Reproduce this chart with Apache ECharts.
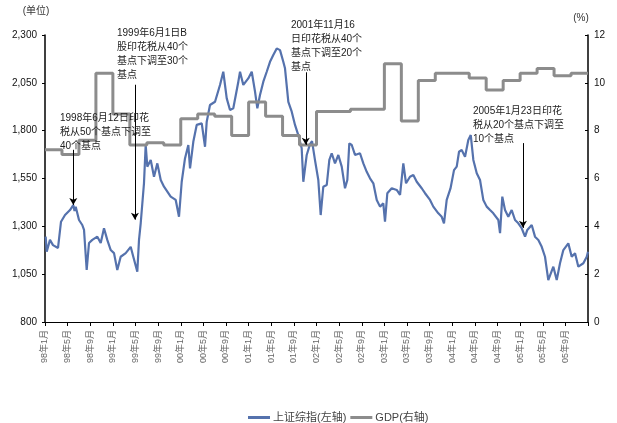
<!DOCTYPE html>
<html>
<head>
<meta charset="utf-8">
<script src="https://cdn.jsdelivr.net/npm/echarts@6/dist/echarts.min.js"></script>
<style>
  html, body { margin: 0; padding: 0; background: #fff; }
  #chart { width: 617px; height: 423px; }
</style>
</head>
<body>
<div id="chart"></div>
<script>
// x axis tick labels, one every 4 months from Jan 1998
const tickLabels = ['98年1月', '98年5月', '98年9月', '99年1月', '99年5月', '99年9月',
  '00年1月', '00年5月', '00年9月', '01年1月', '01年5月', '01年9月',
  '02年1月', '02年5月', '02年9月', '03年1月', '03年5月', '03年9月',
  '04年1月', '04年5月', '04年9月', '05年1月', '05年5月', '05年9月']

// 上证综指: position in months since Jan 1998, and index level
const szMonths = [0.12, 0.30, 0.88, 1.41, 2.30, 2.83, 3.54, 4.42, 5.00, 5.22, 5.43, 6.01, 6.59, 6.90,
  7.37, 7.78, 8.36, 9.25, 9.85, 10.43, 11.01, 11.62, 12.20, 12.78, 13.38, 14.27, 15.15, 15.61,
  16.32, 16.62, 16.92, 17.50, 17.80, 18.09, 18.69, 19.27, 19.86, 20.46, 21.04, 22.22, 23.11, 23.69,
  24.17, 24.75, 25.34, 25.64, 26.22, 26.82, 27.71, 28.29, 28.59, 29.17, 30.06, 30.94, 31.52, 32.13,
  32.71, 33.29, 34.18, 34.48, 35.06, 35.94, 36.55, 37.13, 37.54, 38.01, 38.60, 39.20, 39.78, 40.36,
  40.97, 41.55, 42.13, 42.43, 43.02, 43.62, 44.20, 44.78, 45.38, 45.67, 46.27, 46.85, 47.21, 47.74,
  48.32, 48.74, 49.20, 49.81, 50.27, 50.69, 51.27, 51.86, 52.46, 53.04, 53.45, 53.80, 54.23, 54.81,
  55.69, 56.28, 56.88, 57.46, 58.05, 58.65, 59.23, 59.81, 60.11, 60.52, 61.30, 62.18, 62.77, 63.35,
  63.83, 64.53, 65.12, 65.72, 66.60, 67.19, 68.07, 68.65, 69.54, 70.14, 70.54, 71.02, 71.69, 72.31,
  72.79, 73.20, 73.67, 74.26, 74.84, 75.27, 75.73, 76.33, 76.91, 77.49, 78.09, 78.68, 79.26, 80.15,
  80.45, 80.85, 81.33, 81.91, 82.51, 83.10, 83.68, 84.28, 84.87, 85.27, 86.05, 86.63, 87.22, 87.82,
  88.40, 88.98, 89.87, 90.47, 91.05, 91.64, 92.52, 93.12, 93.71, 94.29, 95.18, 95.78, 96.00]
const szValues = [1246, 1167, 1229, 1202, 1187, 1324, 1359, 1385, 1411, 1380, 1402, 1333, 1307, 1281,
  1072, 1213, 1229, 1246, 1213, 1290, 1229, 1176, 1160, 1072, 1141, 1160, 1193, 1141,
  1063, 1229, 1316, 1525, 1725, 1612, 1647, 1559, 1629, 1542, 1507, 1455, 1438, 1350,
  1533, 1655, 1725, 1603, 1742, 1830, 1838, 1716, 1847, 1934, 1951, 2039, 2108, 1969,
  1908, 1917, 2056, 2108, 2039, 2073, 2108, 2004, 1917, 1986, 2056, 2108, 2160, 2195,
  2230, 2221, 2160, 2126, 1951, 1899, 1830, 1777, 1708, 1533, 1673, 1730, 1745, 1645,
  1542, 1359, 1507, 1516, 1647, 1682, 1629, 1673, 1612, 1499, 1542, 1734, 1725, 1673,
  1682, 1629, 1585, 1551, 1525, 1438, 1403, 1420, 1324, 1473, 1499, 1490, 1464, 1629,
  1525, 1559, 1568, 1533, 1499, 1473, 1438, 1403, 1368, 1350, 1316, 1438, 1498, 1594,
  1612, 1690, 1699, 1664, 1751, 1777, 1647, 1577, 1542, 1438, 1403, 1385, 1368, 1333,
  1264, 1455, 1385, 1350, 1385, 1333, 1316, 1290, 1246, 1281, 1307, 1246, 1229, 1193,
  1141, 1019, 1089, 1019, 1107, 1176, 1211, 1141, 1159, 1089, 1107, 1141, 1167]

// GDP growth by quarter, 1998Q1 - 2005Q4 (%)
const gdpValues = [7.2, 7.0, 7.6, 10.4, 8.7, 7.4, 7.5, 7.4, 8.5, 8.7, 8.6, 7.8, 9.2, 8.6, 7.8, 7.4,
  8.8, 8.8, 8.9, 8.9, 10.8, 8.4, 10.1, 10.4, 10.4, 10.2, 9.7, 10.1, 10.4, 10.6, 10.3, 10.4]

// stamp duty notes: month of the arrow, arrow top / bottom (index units)
const noteTexts = [
  '1998年6月12日印花\n税从50个基点下调至\n40个基点',
  '1999年6月1日B\n股印花税从40个\n基点下调至30个\n基点',
  '2001年11月16\n日印花税从40个\n基点下调至20个\n基点',
  '2005年1月23日印花\n税从20个基点下调至\n10个基点'
]
const noteMonths = [5.0, 15.9, 46.1, 84.5]
const noteTops = [1700, 2040, 2105, 1735]
const noteBottoms = [1412, 1335, 1726, 1292]

const FONT = '"Liberation Sans", Arial, "Noto Sans CJK SC", sans-serif'

const szData = szMonths.map((m, i) => [m, szValues[i]])
const gdpData = gdpValues.map((v, i) => [i * 3, v])
gdpData.push([96, gdpValues[gdpValues.length - 1]])

const notePos = [
  { left: 60, top: 111 },
  { left: 117, top: 26 },
  { left: 291, top: 18 },
  { left: 473, top: 104 }
]

const chart = echarts.init(document.getElementById('chart'))
chart.setOption({
  animation: false,
  textStyle: { fontFamily: FONT },
  grid: { left: 45, right: 29, top: 35, bottom: 101 },
  legend: {
    left: 243,
    top: 407,
    itemWidth: 22,
    itemHeight: 3,
    itemGap: 4,
    icon: 'rect',
    textStyle: { fontSize: 11, color: '#444', fontFamily: FONT, padding: [0, 0, 0, -2] },
    data: ['上证综指(左轴)', 'GDP(右轴)']
  },
  xAxis: {
    type: 'value',
    min: 0,
    max: 96,
    interval: 4,
    splitLine: { show: false },
    axisLine: { lineStyle: { color: '#000', width: 1 } },
    axisTick: { show: true, length: 4, lineStyle: { color: '#000' } },
    axisLabel: {
      rotate: 90,
      margin: 8,
      fontSize: 9,
      color: '#666',
      formatter: v => tickLabels[Math.round(v / 4)] || ''
    }
  },
  yAxis: [
    {
      type: 'value',
      min: 800,
      max: 2300,
      interval: 250,
      name: '(单位)',
      nameGap: 19,
      nameTextStyle: { fontSize: 10, color: '#333', align: 'center', padding: [0, 18, 0, 0] },
      splitLine: { show: false },
      axisLine: { show: true, lineStyle: { color: '#000', width: 1.5 } },
      axisTick: { show: true, length: 3, lineStyle: { color: '#000' } },
      axisLabel: {
        fontSize: 10,
        color: '#111',
        margin: 8,
        formatter: v => v.toLocaleString('en-US')
      }
    },
    {
      type: 'value',
      min: 0,
      max: 12,
      interval: 2,
      position: 'right',
      name: '(%)',
      nameGap: 12,
      nameTextStyle: { fontSize: 10, color: '#333', align: 'center', padding: [0, 14, 0, 0] },
      splitLine: { show: false },
      axisLine: { show: true, lineStyle: { color: '#000', width: 1.5 } },
      axisTick: { show: true, inside: true, length: 3, lineStyle: { color: '#000' } },
      axisLabel: { fontSize: 10, color: '#111', margin: 6 }
    }
  ],
  series: [
    {
      name: '上证综指(左轴)',
      type: 'line',
      yAxisIndex: 0,
      showSymbol: false,
      symbol: 'none',
      z: 2,
      color: '#5572ad',
      lineStyle: { width: 2.2, color: '#5572ad' },
      data: szData,
      markLine: {
        silent: true,
        symbol: ['none', 'arrow'],
        symbolSize: [6, 7],
        label: { show: false },
        lineStyle: { color: '#000', width: 1, type: 'solid' },
        data: noteMonths.map((m, i) => [
          { coord: [m, noteTops[i]] },
          { coord: [m, noteBottoms[i]] }
        ])
      }
    },
    {
      name: 'GDP(右轴)',
      type: 'line',
      yAxisIndex: 1,
      step: 'end',
      showSymbol: false,
      symbol: 'none',
      z: 3,
      color: '#8c8c8c',
      lineStyle: { width: 3, color: '#8c8c8c' },
      data: gdpData
    }
  ],
  graphic: noteTexts.map((t, i) => ({
    type: 'text',
    left: notePos[i].left,
    top: notePos[i].top,
    z: 10,
    style: {
      text: t,
      font: '10px ' + FONT,
      fill: '#222',
      lineHeight: 14
    }
  }))
})
</script>
</body>
</html>
